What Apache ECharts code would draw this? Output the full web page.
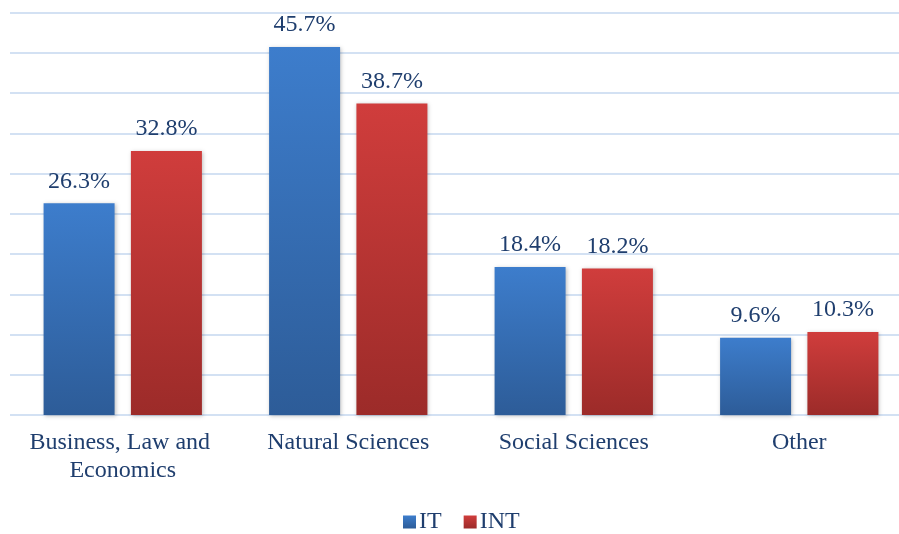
<!DOCTYPE html>
<html>
<head>
<meta charset="utf-8">
<script src="https://cdn.jsdelivr.net/npm/echarts@6/dist/echarts.min.js"></script>
<style>
  html, body { margin: 0; padding: 0; background: #fff; }
  #chart { width: 899px; height: 534px; }
</style>
</head>
<body>
<div id="chart"></div>
<script>
// Share of students by field of study (%)
const categories = ['Business, Law and Economics', 'Natural Sciences', 'Social Sciences', 'Other'];
const itValues = [26.3, 45.7, 18.4, 9.6];
const intValues = [32.8, 38.7, 18.2, 10.3];
const seriesNames = ['IT', 'INT'];

const textColor = '#1F3E6E';
const fontFamily = '"Liberation Serif", "Times New Roman", serif';

function vGrad(top, bottom) {
  return new echarts.graphic.LinearGradient(0, 0, 0, 1, [
    { offset: 0, color: top },
    { offset: 1, color: bottom }
  ]);
}

const blue = vGrad('#3D7DCC', '#2D5C98');
const red = vGrad('#D03D3C', '#9C2B29');

const labelStyle = {
  show: true,
  position: 'top',
  distance: 10,
  color: textColor,
  fontFamily: fontFamily,
  fontSize: 24,
  formatter: p => p.value.toFixed(1) + '%'
};

const chart = echarts.init(document.getElementById('chart'), null, { renderer: 'canvas' });
chart.setOption({
  animation: false,
  backgroundColor: '#ffffff',
  grid: {
    left: 10, right: -13, top: 12.5, bottom: 119,
    containLabel: false,
    outerBoundsMode: 'none'
  },
  legend: {
    bottom: -5,
    left: 398,
    icon: 'rect',
    itemWidth: 13,
    itemHeight: 13,
    itemGap: 22,
    textStyle: { color: textColor, fontFamily: fontFamily, fontSize: 24, padding: [0, 0, 0, -2] },
    data: [
      { name: seriesNames[0], itemStyle: { color: blue } },
      { name: seriesNames[1], itemStyle: { color: red } }
    ]
  },
  xAxis: {
    type: 'category',
    data: categories,
    axisLine: { show: false },
    axisTick: { show: false },
    axisLabel: {
      color: textColor,
      fontFamily: fontFamily,
      fontSize: 24,
      margin: 14,
      lineHeight: 28,
      width: 205,
      overflow: 'break',
      interval: 0
    }
  },
  yAxis: {
    type: 'value',
    min: 0,
    max: 50,
    interval: 5,
    axisLabel: { show: false },
    axisLine: { show: false },
    axisTick: { show: false },
    splitLine: { lineStyle: { color: '#D3E1F3', width: 2 } }
  },
  series: [
    {
      name: seriesNames[0],
      type: 'bar',
      data: itValues,
      barWidth: 71,
      barGap: '23%',
      itemStyle: {
        color: blue,
        shadowColor: 'rgba(0,0,0,0.25)',
        shadowBlur: 4,
        shadowOffsetX: 1,
        shadowOffsetY: 1
      },
      label: labelStyle
    },
    {
      name: seriesNames[1],
      type: 'bar',
      data: intValues,
      barWidth: 71,
      barGap: '23%',
      itemStyle: {
        color: red,
        shadowColor: 'rgba(0,0,0,0.25)',
        shadowBlur: 4,
        shadowOffsetX: 1,
        shadowOffsetY: 1
      },
      label: labelStyle
    }
  ]
});
</script>
</body>
</html>
